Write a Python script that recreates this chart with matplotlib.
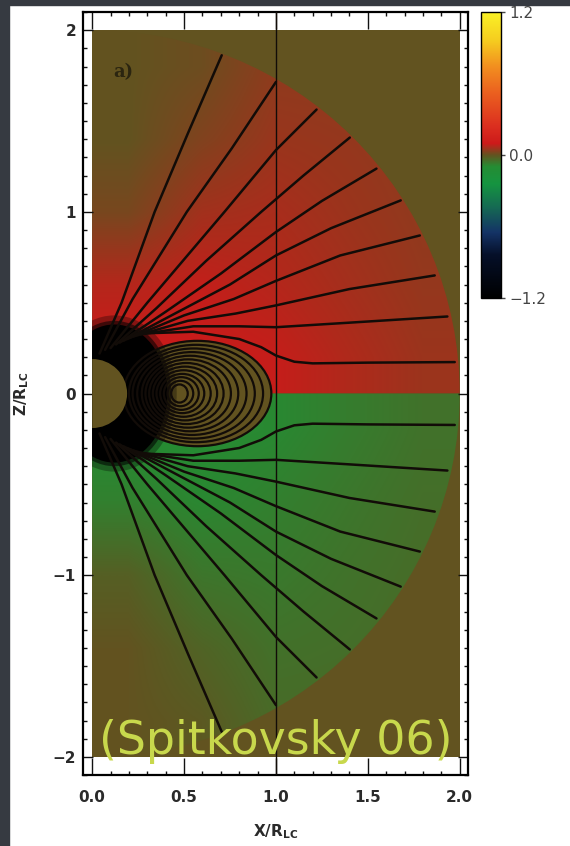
import matplotlib
matplotlib.use("Agg")
import matplotlib.pyplot as plt
import numpy as np
from matplotlib.colors import LinearSegmentedColormap
from matplotlib.patches import Rectangle, Wedge, Ellipse
from matplotlib.ticker import MultipleLocator

# colour table (position in 0..1, colour)
cbar_pos = [0.0, 0.15, 0.23, 0.32, 0.40, 0.46, 0.50, 0.54, 0.60, 0.72, 0.81, 0.90, 1.0]
cbar_colors = ['#000000', '#050f28', '#143366', '#156b52', '#159440', '#258c33',
               '#625320', '#cc1a1a', '#db2e1f', '#eb611f', '#f28f1f', '#f5cc1f', '#faf226']
cbar_ticks = [-1.2, 0.0, 1.2]
cbar_labels = ['\u22121.2', '0.0', '1.2']

# field value in the upper half (rows z = 0.2 .. 1.8, cols x = 0.2 .. 1.8)
field_upper = [
    [0.100, 0.095, 0.090, 0.070, 0.052],
    [0.075, 0.088, 0.075, 0.060, 0.046],
    [0.020, 0.058, 0.064, 0.052, 0.042],
    [0.000, 0.028, 0.050, 0.046, 0.040],
    [0.000, 0.010, 0.040, 0.040, 0.040],
]
outer_radius = 2.0
star_radius = 0.19
light_cylinder = 1.0

# open field lines, upper half (lower half is the mirror image)
open_x = [
    [0.04, 0.16, 0.34, 0.52, 0.705],
    [0.07, 0.22, 0.515, 0.76, 1.0],
    [0.10, 0.30, 0.72, 1.0, 1.221],
    [0.13, 0.35, 0.62, 0.92, 1.15, 1.402],
    [0.15, 0.40, 0.70, 1.0, 1.25, 1.547],
    [0.17, 0.45, 0.75, 1.0, 1.30, 1.679],
    [0.19, 0.50, 0.77, 1.0, 1.35, 1.783],
    [0.21, 0.52, 0.78, 1.0, 1.40, 1.864],
    [0.23, 0.55, 0.80, 1.0, 1.40, 1.933],
    [0.25, 0.55, 0.80, 0.92, 1.0, 1.10, 1.20, 1.50, 1.973],
]
open_z = [
    [0.22, 0.50, 1.00, 1.43, 1.862],
    [0.24, 0.52, 1.00, 1.35, 1.715],
    [0.25, 0.50, 1.00, 1.34, 1.563],
    [0.27, 0.47, 0.73, 1.00, 1.20, 1.409],
    [0.28, 0.45, 0.66, 0.889, 1.06, 1.238],
    [0.29, 0.44, 0.60, 0.76, 0.91, 1.063],
    [0.30, 0.43, 0.52, 0.62, 0.76, 0.870],
    [0.31, 0.40, 0.44, 0.485, 0.575, 0.650],
    [0.32, 0.37, 0.37, 0.365, 0.39, 0.424],
    [0.33, 0.34, 0.30, 0.255, 0.209, 0.175, 0.166, 0.170, 0.173],
]

# closed loops: equatorial left / right ends and half height
loop_left = [0.17, 0.20, 0.22, 0.245, 0.27, 0.29, 0.31, 0.33, 0.35, 0.37, 0.39, 0.41, 0.43]
loop_right = [0.975, 0.93, 0.885, 0.84, 0.795, 0.755, 0.715, 0.68, 0.645, 0.61, 0.58, 0.55, 0.52]
loop_top = [0.29, 0.268, 0.248, 0.228, 0.208, 0.188, 0.168, 0.148, 0.128, 0.108, 0.09, 0.07, 0.05]

cmap = LinearSegmentedColormap.from_list('idl', list(zip(cbar_pos, cbar_colors)), N=4096)
olive = cmap(0.5)
line_col = '#120c08'

fig = plt.figure(figsize=(5.7, 8.46), dpi=100)
fig.patch.set_facecolor('white')
fig.add_artist(Rectangle((0, 0), 9 / 570, 1, transform=fig.transFigure, color='#363a41', zorder=0))
fig.add_artist(Rectangle((0, 1 - 5 / 846), 1, 5 / 846, transform=fig.transFigure, color='#363a41', zorder=0))

ax = fig.add_axes([0.1456, 0.0839, 0.6754, 0.9019])
ax.set_facecolor('white')

bg = Rectangle((0, -outer_radius), outer_radius, 2 * outer_radius, facecolor=olive, edgecolor='none', zorder=0)
ax.add_patch(bg)

up = np.array(field_upper)
im = ax.imshow(up, extent=(0, 2, 0, 2), origin='lower', cmap=cmap, vmin=-1.2, vmax=1.2,
               interpolation='bilinear', interpolation_stage='data', aspect='auto', zorder=1)
im.set_clip_path(Wedge((0, 0), outer_radius, 0, 90, transform=ax.transData))
im2 = ax.imshow(-up[::-1], extent=(0, 2, -2, 0), origin='lower', cmap=cmap, vmin=-1.2, vmax=1.2,
                interpolation='bilinear', interpolation_stage='data', aspect='auto', zorder=1)
im2.set_clip_path(Wedge((0, 0), outer_radius, 270, 360, transform=ax.transData))

# closed zone (zero field) and dense region near the star
cx = (loop_left[0] + loop_right[0]) / 2
ax.add_patch(Ellipse((cx, 0), loop_right[0] - loop_left[0], 2 * loop_top[0],
                     facecolor=olive, edgecolor='none', zorder=2))
for w, h, a in [(0.68, 0.86, 0.3), (0.62, 0.80, 0.55), (0.58, 0.76, 1.0)]:
    e = Ellipse((0.12, 0), w, h, facecolor='black', edgecolor='none', alpha=a, zorder=3)
    ax.add_patch(e)
    e.set_clip_path(bg)

for l, r, t in zip(loop_left, loop_right, loop_top):
    ax.add_patch(Ellipse(((l + r) / 2, 0), r - l, 2 * t, fill=False,
                         edgecolor=line_col, lw=1.6, zorder=4))

for xs, zs in zip(open_x, open_z):
    ax.plot(xs, zs, color=line_col, lw=1.8, zorder=4, solid_capstyle='round')
    ax.plot(xs, [-z for z in zs], color=line_col, lw=1.8, zorder=4, solid_capstyle='round')

ax.add_patch(Wedge((0, 0), star_radius, -90, 90, facecolor=olive, edgecolor='none', zorder=5))
ax.axvline(light_cylinder, color=line_col, lw=1.0, zorder=4)

ax.text(0.17, 1.77, 'a)', family='DejaVu Serif', fontsize=13, fontweight='bold',
        color='#2b2510', ha='center', va='center', zorder=6)
ax.text(1.0, -1.915, '(Spitkovsky 06)', fontsize=33, color='#c8d84c',
        ha='center', va='center', zorder=10, clip_on=False)

ax.set_xlim(-0.05, 2.045)
ax.set_ylim(-2.1, 2.1)
ax.xaxis.set_minor_locator(MultipleLocator(0.1))
ax.yaxis.set_minor_locator(MultipleLocator(0.1))
ax.set_xticks([0, 0.5, 1.0, 1.5, 2.0])
ax.set_xticklabels(['0.0', '0.5', '1.0', '1.5', '2.0'])
ax.set_yticks([-2, -1, 0, 1, 2])
ax.tick_params(which='both', direction='in', top=True, right=True, color='#111111', width=1)
ax.tick_params(axis='x', which='major', length=12.5, pad=11)
ax.tick_params(axis='y', which='major', length=7, pad=5)
ax.tick_params(which='minor', length=3)
for lab in ax.get_xticklabels() + ax.get_yticklabels():
    lab.set_fontsize(11)
    lab.set_fontweight('bold')
    lab.set_color('#2a2a2a')
for s in ax.spines.values():
    s.set_linewidth(1.6)

ax.set_xlabel('X/R$_{\\mathbf{LC}}$', fontsize=11, fontweight='bold', color='#2a2a2a')
ax.set_ylabel('Z/R$_{\\mathbf{LC}}$', fontsize=11, fontweight='bold', color='#2a2a2a')
ax.xaxis.set_label_coords(0.5, -0.062)
ax.yaxis.set_label_coords(-0.135, 0.5)

cax = fig.add_axes([481 / 570, 1 - 298 / 846, 20 / 570, 286 / 846])
cb = fig.colorbar(im, cax=cax, ticks=cbar_ticks)
cb.ax.set_yticklabels(cbar_labels)
cb.ax.tick_params(length=3, width=1, labelsize=11, colors='#444444', pad=3)
cb.outline.set_linewidth(1.0)

fig.savefig('out.png', dpi=100)
